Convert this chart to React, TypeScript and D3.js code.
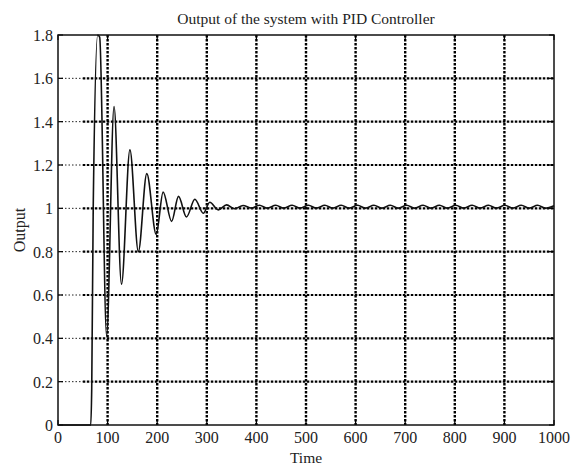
import React from "react";
import * as d3 from "d3";

const title = "Output of the system with PID Controller";
const xLabel = "Time";
const yLabel = "Output";
const xTicks = [0, 100, 200, 300, 400, 500, 600, 700, 800, 900, 1000];
const yTicks = [0, 0.2, 0.4, 0.6, 0.8, 1, 1.2, 1.4, 1.6, 1.8];

const timeValues = [
  0, 66, 68, 71, 80, 84, 98, 113, 128, 145, 162, 179, 198, 212, 229, 243, 259, 276, 293,
  306, 323, 340, 356, 373, 390, 406, 422, 439, 455, 472, 488, 505, 521, 538, 554, 571, 587,
  604, 620, 637, 653, 670, 686, 703, 719, 736, 752, 769, 785, 802, 818, 835, 851, 868, 884,
  901, 917, 934, 950, 967, 983, 1000,
];
const outputValues = [
  0, 0, 0.17, 1.0, 1.8, 1.79, 0.41, 1.47, 0.65, 1.27, 0.8, 1.16, 0.88, 1.075, 0.94, 1.055, 0.96, 1.042, 0.977,
  1.028, 0.993, 1.016, 0.998, 1.013, 1.001, 1.014, 1.001, 1.014, 1.001, 1.014, 1.001, 1.014, 1.001, 1.014, 1.001, 1.014, 1.001,
  1.014, 1.001, 1.014, 1.001, 1.014, 1.001, 1.014, 1.001, 1.014, 1.001, 1.014, 1.001, 1.014, 1.001, 1.014, 1.001, 1.014, 1.001,
  1.014, 1.001, 1.014, 1.001, 1.014, 1.001, 1.012,
];

const W = 575;
const H = 468;
const L = 58;
const R = 554;
const T = 35;
const B = 425;
const font = "'Liberation Serif', 'Times New Roman', serif";

export default function App() {
  const x = d3.scaleLinear().domain([0, 1000]).range([L, R]);
  const y = d3.scaleLinear().domain([0, 1.8]).range([B, T]);
  const data = timeValues.map((t, i) => [t, outputValues[i]] as [number, number]);
  const line = d3
    .line<[number, number]>()
    .x((d) => x(d[0]))
    .y((d) => y(d[1]))
    .curve(d3.curveMonotoneX);

  return (
    <svg
      width={W}
      height={H}
      style={{ position: "absolute", left: 0, top: 0, background: "#fff" }}
    >
      <rect x={0} y={0} width={W} height={H} fill="#fff" />
      {/* horizontal grid */}
      {yTicks.slice(1, -1).map((v) => (
        <g key={"h" + v}>
          <line x1={x(0)} x2={x(50)} y1={y(v)} y2={y(v)} stroke="#222" strokeWidth={1} strokeDasharray="1.5,2" />
          <line x1={x(50)} x2={R} y1={y(v)} y2={y(v)} stroke="#000" strokeWidth={2.2} strokeDasharray="2.5,1.5" />
        </g>
      ))}
      {/* vertical grid */}
      {xTicks.slice(1, -1).map((t) => (
        <line key={"v" + t} x1={x(t)} x2={x(t)} y1={T} y2={B} stroke="#000" strokeWidth={2.4} strokeDasharray="2.5,1.5" />
      ))}
      {/* ticks */}
      {xTicks.map((t) => (
        <g key={"xt" + t}>
          <line x1={x(t)} x2={x(t)} y1={B} y2={B - 5} stroke="#000" strokeWidth={1.2} />
          <line x1={x(t)} x2={x(t)} y1={T} y2={T + 5} stroke="#000" strokeWidth={1.2} />
          <text x={x(t)} y={B + 18} textAnchor="middle" fontFamily={font} fontSize={16} fill="#222">
            {d3.format("")(t)}
          </text>
        </g>
      ))}
      {yTicks.map((v) => (
        <g key={"yt" + v}>
          <line x1={L} x2={L + 5} y1={y(v)} y2={y(v)} stroke="#000" strokeWidth={1.2} />
          <line x1={R} x2={R - 5} y1={y(v)} y2={y(v)} stroke="#000" strokeWidth={1.2} />
          <text x={L - 5} y={y(v) + 6} textAnchor="end" fontFamily={font} fontSize={16} fill="#222">
            {d3.format("")(Math.round(v * 10) / 10)}
          </text>
        </g>
      ))}
      {/* curve */}
      <path d={line(data) || ""} fill="none" stroke="#111" strokeWidth={1.6} strokeLinejoin="round" />
      {/* frame */}
      <rect x={L} y={T} width={R - L} height={B - T} fill="none" stroke="#111" strokeWidth={1.5} />
      <text x={(L + R) / 2} y={24} textAnchor="middle" fontFamily={font} fontSize={15.5} fill="#222">
        {title}
      </text>
      <text x={(L + R) / 2} y={463} textAnchor="middle" fontFamily={font} fontSize={15.5} fill="#222">
        {xLabel}
      </text>
      <text
        transform={`translate(25, ${(T + B) / 2}) rotate(-90)`}
        textAnchor="middle"
        fontFamily={font}
        fontSize={16}
        fill="#222"
      >
        {yLabel}
      </text>
    </svg>
  );
}
